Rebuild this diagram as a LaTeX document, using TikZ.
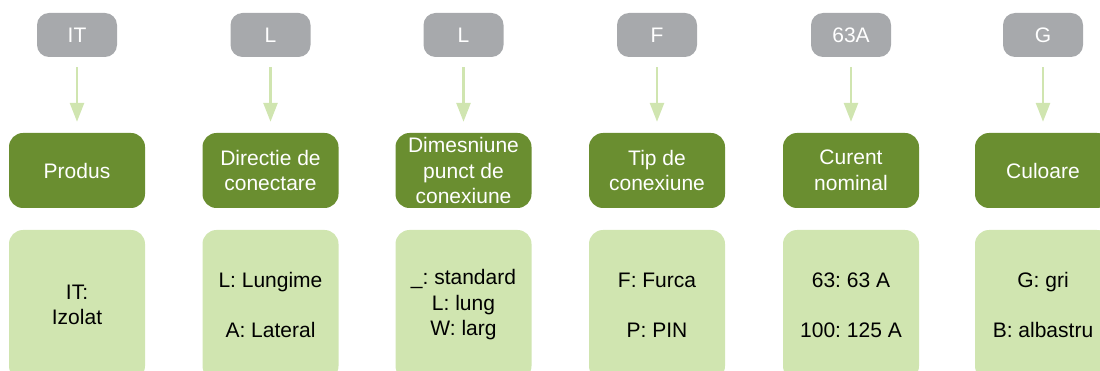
\documentclass[tikz,border=0pt]{standalone}
\usepackage{fontspec}
\setmainfont{Liberation Sans}
\usetikzlibrary{arrows.meta}
\definecolor{taggray}{HTML}{A7A9AC}
\definecolor{headgreen}{HTML}{6A8E30}
\definecolor{bodygreen}{HTML}{D0E5B0}
\tikzstyle{tag}=[rounded corners=12pt,fill=taggray,text=white,minimum width=80pt,minimum height=44pt,inner sep=0pt,font=\fontsize{21}{25.5}\selectfont]
\tikzstyle{head}=[rounded corners=14pt,fill=headgreen,text=white,minimum width=136pt,minimum height=75pt,inner sep=0pt,align=center,font=\fontsize{21}{25.8}\selectfont\frenchspacing]
\tikzstyle{body}=[rounded corners=14pt,fill=bodygreen,text=black,minimum width=136pt,minimum height=150pt,inner sep=0pt,align=center,font=\fontsize{21}{25.5}\selectfont\frenchspacing]
\tikzstyle{edge} = [draw=bodygreen,line width=2.7pt,-{Triangle[width=14pt,length=19pt]},shorten <=10pt,shorten >=11pt]
\begin{document}
\begin{tikzpicture}[x=1pt,y=-1pt]

    \path[use as bounding box,clip] (0,0) rectangle (1100,371);

    \foreach \x/\code/\title/\desc/\name in {77/IT/Produs/{IT:\\Izolat}/prod, 270.5/L/{Directie de\\conectare}/{L: Lungime\\[24.5pt]A: Lateral}/dir, 463.5/L/{Dimesniune\\punct de\\conexiune}/{\_: standard\\L: lung\\W: larg}/dim, 657/F/{Tip de\\conexiune}/{F: Furca\\[24.5pt]P: PIN}/tip, 851/63A/{Curent\\nominal}/{63: 63 A\\[24.5pt]100: 125 A}/cur, 1043/G/Culoare/{G: gri\\[24.5pt]B: albastru}/cul}
    {
        \node[tag] (t\name) at (\x,35) {\code};
        \node[head] (h\name) at (\x,170.5) {\title};
        \node[body] (b\name) at (\x,305) {\desc};
        \path[edge] (t\name) -- (h\name);
    }

\end{tikzpicture}
\end{document}
